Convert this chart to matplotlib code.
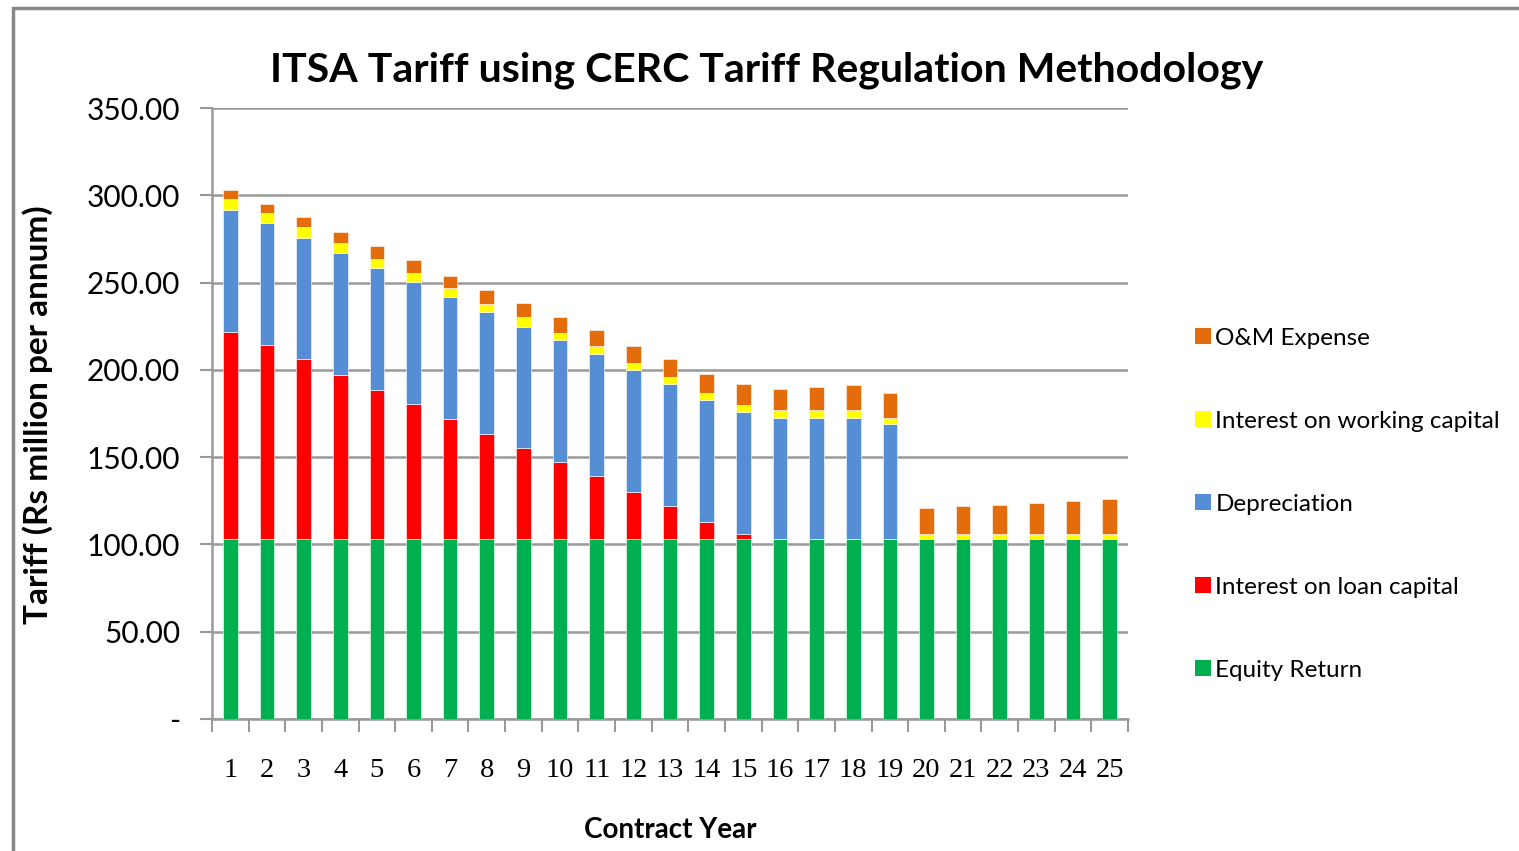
import numpy as np
import matplotlib
matplotlib.use('Agg')
import matplotlib.pyplot as plt
from matplotlib.patches import Rectangle, Patch

# data (Rs million per annum)
years = np.arange(1, 26)
equity = [103.0] * 25
loan_int = [118.8, 111.0, 103.0, 94.0, 85.6, 77.2, 68.8, 60.4, 52.0, 44.0, 36.0, 27.0, 19.0,
            10.0, 3.0, 0, 0, 0, 0, 0, 0, 0, 0, 0, 0]
depreciation = [70.0, 69.9, 69.8, 69.9, 69.8, 70.0, 70.0, 70.0, 69.8, 70.0, 69.9, 69.9, 69.9,
                70.0, 69.8, 69.7, 69.7, 69.7, 65.7, 0, 0, 0, 0, 0, 0]
wc_int = [5.9, 5.9, 6.0, 5.9, 5.3, 5.0, 5.0, 4.2, 5.2, 4.0, 5.0, 4.2, 4.0,
          4.0, 4.0, 4.1, 4.2, 4.2, 3.9, 3.1, 3.1, 3.1, 3.1, 3.1, 3.1]
om_exp = [5.2, 5.2, 6.0, 5.9, 7.1, 8.0, 6.9, 8.0, 8.2, 9.0, 8.9, 9.7, 10.1,
          10.9, 12.1, 12.0, 13.1, 14.2, 14.3, 14.9, 15.9, 16.7, 17.7, 18.7, 19.9]

names = ['Equity Return', 'Interest on loan capital', 'Depreciation',
         'Interest on working capital', 'O&M Expense']
colors = ['#00B050', '#FF0000', '#558ED5', '#FFFF00', '#E46C0A']
series = [equity, loan_int, depreciation, wc_int, om_exp]

sans = ['Lato', 'DejaVu Sans']
fig = plt.figure(figsize=(15.19, 8.51), dpi=100)
ax = fig.add_axes([212/1519, 1-719/851, (1128-212)/1519, (719-108)/851])

bottom = np.zeros(25)
for vals, c in zip(series, colors):
    vals = np.array(vals)
    ax.bar(years, vals, width=0.4, bottom=bottom, color=c, edgecolor='white', linewidth=0.4, zorder=3)
    bottom += vals

ax.set_xlim(0.5, 25.5)
ax.set_ylim(0, 350)
yt = np.arange(0, 351, 50)
ax.set_yticks(yt)
ax.set_yticklabels(['-'] + ['%.2f' % v for v in yt[1:]], fontsize=21.5, family=sans)
ax.yaxis.grid(True, color='#999999', linewidth=1.8, zorder=0)
ax.set_xticks(years)
ax.set_xticklabels([str(y) for y in years], fontsize=20.5, family='Liberation Serif')
ax.set_xticks(np.arange(0.5, 26, 1), minor=True)
ax.tick_params(axis='x', which='major', length=0, pad=28)
ax.tick_params(axis='x', which='minor', length=9, width=1.5, color='#999999', direction='out')
ax.tick_params(axis='y', length=9, width=1.5, color='#999999', pad=14)
for s in ['top', 'right']:
    ax.spines[s].set_visible(False)
for s in ['left', 'bottom']:
    ax.spines[s].set_color('#999999')
    ax.spines[s].set_linewidth(1.8)

fig.text(767/1519, 1-70/851, 'ITSA Tariff using CERC Tariff Regulation Methodology',
         fontsize=29.5, fontweight='bold', family=sans, ha='center', va='center')
fig.text(38/1519, 1-415/851, 'Tariff (Rs million per annum)', rotation=90,
         fontsize=24, fontweight='bold', family=sans, ha='center', va='center')
fig.text(670/1519, 1-830/851, 'Contract Year', fontsize=20, fontweight='bold',
         family=sans, ha='center', va='center')

handles = [Patch(facecolor=c, edgecolor='none') for c in colors][::-1]
leg = fig.legend(handles, names[::-1], loc='upper left', bbox_to_anchor=(1185/1519, 1-318/851),
                 frameon=False, prop={'family': sans, 'size': 17.5}, labelspacing=2.55,
                 handlelength=0.65, handleheight=0.65, handletextpad=0.2, borderaxespad=0)

fig.patches.append(Rectangle((13/1519, -0.1), 1.2, 1-8/851+0.1, transform=fig.transFigure,
                             fill=False, edgecolor='#888888', linewidth=2.5))

fig.savefig('out.png', dpi=100)
